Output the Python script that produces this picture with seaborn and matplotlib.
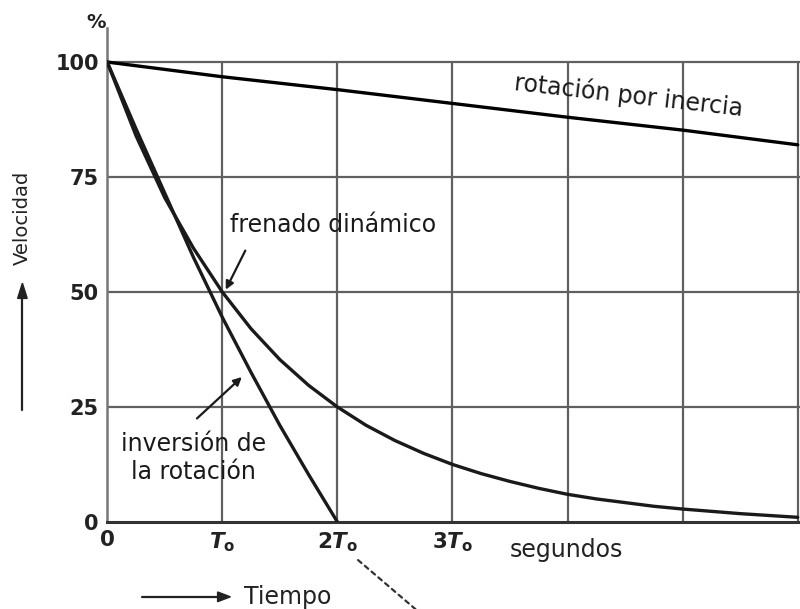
import pandas as pd
import matplotlib.pyplot as plt
import seaborn as sns

# Values (time in units of T0, speed in %)
t_inercia = [0, 1, 2, 3, 4, 5, 6]
v_inercia = [100, 96.8, 94, 91, 88, 85.2, 82]

t_frenado = [0, 0.25, 0.5, 0.75, 1, 1.25, 1.5, 1.75, 2, 2.25, 2.5, 2.75, 3,
             3.25, 3.5, 3.75, 4, 4.25, 4.5, 4.75, 5, 5.25, 5.5, 5.75, 6]
v_frenado = [100, 84, 70.5, 59.5, 50, 42, 35.3, 29.7, 25, 21, 17.7, 14.9, 12.5,
             10.5, 8.8, 7.3, 6, 5, 4.2, 3.4, 2.8, 2.3, 1.8, 1.4, 1.0]

t_inversion = [0, 0.25, 0.5, 0.75, 1, 1.25, 1.5, 1.75, 2]
v_inversion = [100, 85.5, 71.5, 57.5, 44.5, 32.5, 21, 10.3, 0]

x_ticks = [0, 1, 2, 3]
x_ticklabels = [r'$0$', r'$T_\mathrm{o}$', r'$2T_\mathrm{o}$', r'$3T_\mathrm{o}$']
y_ticks = [0, 25, 50, 75, 100]

df = pd.concat([
    pd.DataFrame({'t': t_inercia, 'v': v_inercia, 'curva': 'inercia'}),
    pd.DataFrame({'t': t_frenado, 'v': v_frenado, 'curva': 'frenado'}),
    pd.DataFrame({'t': t_inversion, 'v': v_inversion, 'curva': 'inversion'}),
])

sns.set_style('white')
plt.rcParams['font.family'] = ['DejaVu Sans']
plt.rcParams['mathtext.fontset'] = 'custom'
plt.rcParams['mathtext.rm'] = 'DejaVu Sans:bold'
plt.rcParams['mathtext.it'] = 'DejaVu Sans:italic:bold'

fig = plt.figure(figsize=(8, 6.09), dpi=100)
ax = fig.add_axes([0.134, 0.143, 0.866, 0.811])

# grid only inside the 0-100 / 0-6 box
grid_c = '#606060'
ax.vlines(range(1, 7), 0, 100, color=grid_c, lw=1.6, zorder=1)
ax.hlines([25, 50, 75, 100], 0, 6.02, color=grid_c, lw=1.6, zorder=1)

sns.lineplot(data=df, x='t', y='v', hue='curva', units='curva', estimator=None,
             palette={'inercia': 'black', 'frenado': '#1a1a1a', 'inversion': '#1a1a1a'},
             linewidth=2.4, legend=False, ax=ax, zorder=3)

ax.set_xlim(0, 6.02)
ax.set_ylim(0, 107.4)
sns.despine(ax=ax, top=True, right=True)
ax.spines['left'].set_color('#777777')
ax.spines['left'].set_linewidth(1.8)
ax.spines['bottom'].set_color('#333333')
ax.spines['bottom'].set_linewidth(2.2)

ax.set_xticks(x_ticks)
ax.set_xticklabels(x_ticklabels, fontsize=15.5, color='#222222')
ax.set_yticks(y_ticks)
ax.set_yticklabels([str(v) for v in y_ticks], fontsize=15, fontweight='bold', color='#222222')
ax.tick_params(length=0, pad=6)
ax.set_xlabel('')
ax.set_ylabel('')

ax.text(-0.1, 108.7, '%', fontsize=14, fontweight='bold', ha='center', va='center',
        color='#222222', clip_on=False)
ax.text(3.5, -6.2, 'segundos', fontsize=17, ha='left', va='center', color='#222222',
        clip_on=False)

# curve labels
ax.text(4.53, 92.8, 'rotación por inercia', fontsize=17, rotation=-6.5,
        ha='center', va='center', color='#1a1a1a')
ax.text(1.07, 64.6, 'frenado dinámico', fontsize=17, ha='left', va='center',
        color='#1a1a1a')
ax.text(0.75, 13.9, 'inversión de\nla rotación', fontsize=17, ha='center',
        va='center', linespacing=1.25, color='#1a1a1a')

arrow = dict(arrowstyle='-|>', color='#1a1a1a', lw=1.6, mutation_scale=12,
             shrinkA=0, shrinkB=0)
ax.annotate('', xy=(1.03, 50.5), xytext=(1.2, 59), arrowprops=arrow)
ax.annotate('', xy=(1.17, 31.5), xytext=(0.78, 22.5), arrowprops=arrow)

# leader line below 2T0
ax.annotate('', xy=(2.68, -19), xytext=(2.18, -8.3), annotation_clip=False,
            arrowprops=dict(arrowstyle='-', color='#333333', lw=1.6,
                            linestyle=(0, (2, 2)), shrinkA=0, shrinkB=0))

# axis names with arrows
fig.text(0.028, 0.643, 'Velocidad', rotation=90, fontsize=14, ha='center',
         va='center', color='#222222')
fig.add_artist(plt.Line2D([0.028, 0.028], [0.326, 0.525], color='#222222', lw=1.6))
fig.patches.append(plt.Polygon([[0.022, 0.51], [0.034, 0.51], [0.028, 0.535]],
                               closed=True, color='#222222', transform=fig.transFigure,
                               figure=fig))
fig.text(0.305, 0.02, 'Tiempo', fontsize=17, ha='left', va='center', color='#222222')
fig.add_artist(plt.Line2D([0.177, 0.28], [0.02, 0.02], color='#222222', lw=1.6))
fig.patches.append(plt.Polygon([[0.272, 0.012], [0.272, 0.028], [0.288, 0.02]],
                               closed=True, color='#222222', transform=fig.transFigure,
                               figure=fig))

fig.savefig('out.png', dpi=100)
